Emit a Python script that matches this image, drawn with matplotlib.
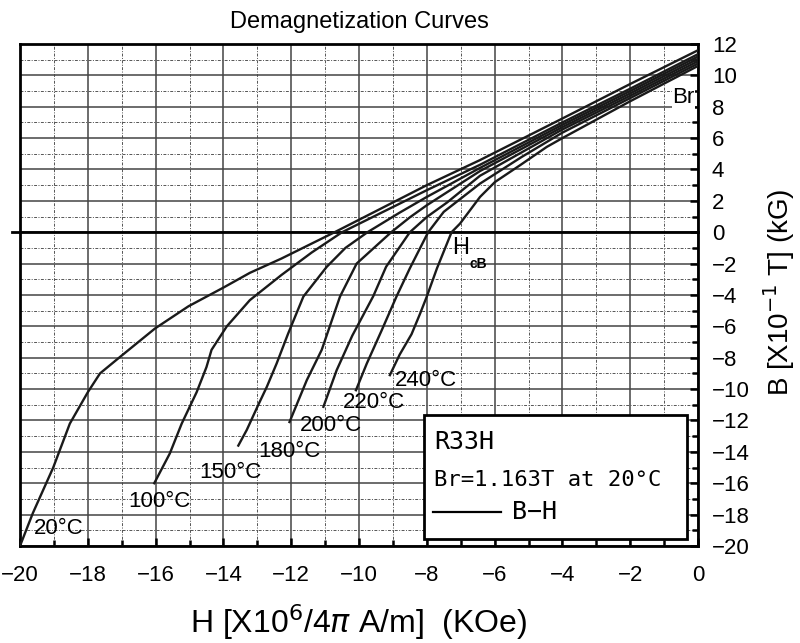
import numpy as np
import matplotlib
matplotlib.use("Agg")
import matplotlib.pyplot as plt
from matplotlib.ticker import MultipleLocator
from matplotlib.patches import Rectangle

# demagnetization curves, H in kOe, B in kG
H20 = [-20, -19.62, -19.02, -18.53, -18.0, -17.64, -17.05, -16.02, -15.03, -14.0,
       -13.22, -12.29, -10.72, -8.0, -6.43, -4.0, -2.0, 0.0]
B20 = [-20, -17.9, -15.0, -12.2, -10.2, -9.0, -7.95, -6.14, -4.72, -3.53,
       -2.59, -1.68, 0.0, 3.0, 4.6, 7.25, 9.45, 11.6]
H100 = [-16.04, -15.58, -15.23, -14.79, -14.5, -14.35, -13.9, -13.22, -12.29, -11.4,
        -10.5, -8.0, -6.43, -4.0, -2.0, 0.0]
B100 = [-16.0, -14.1, -12.2, -10.2, -8.6, -7.5, -6.0, -4.33, -2.73, -1.3,
        0.0, 2.68, 4.3, 7.0, 9.15, 11.35]
H150 = [-13.56, -13.31, -12.97, -12.72, -12.43, -12.09, -11.64, -10.95, -10.4, -9.75,
        -8.8, -8.0, -6.43, -4.0, -2.0, 0.0]
B150 = [-13.6, -12.6, -11.0, -9.86, -8.37, -6.46, -4.1, -2.2, -1.0, 0.0,
        1.25, 2.25, 4.1, 6.85, 9.0, 11.2]
H180 = [-12.05, -11.54, -11.1, -10.56, -10.07, -9.05, -8.5, -8.0, -6.43, -4.0, -2.0, 0.0]
B180 = [-12.1, -9.43, -7.5, -4.1, -2.0, 0.0, 0.95, 1.72, 3.9, 6.7, 8.85, 11.05]
H200 = [-11.05, -10.66, -10.2, -9.58, -9.2, -8.5, -8.0, -7.4, -6.43, -4.0, -2.0, 0.0]
B200 = [-11.13, -8.8, -6.6, -4.08, -2.2, 0.0, 0.97, 1.9, 3.6, 6.55, 8.7, 10.9]
H220 = [-10.09, -9.77, -9.33, -8.89, -8.5, -7.96, -7.5, -6.43, -5.2, -4.0, -2.0, 0.0]
B220 = [-10.07, -8.37, -6.25, -4.08, -2.3, 0.0, 1.3, 3.1, 4.8, 6.35, 8.55, 10.75]
H240 = [-9.09, -8.8, -8.45, -8.2, -8.0, -7.7, -7.27, -7.02, -6.43, -5.99, -5.25,
        -4.46, -4.0, -2.0, 0.0]
B240 = [-9.11, -7.8, -6.5, -5.2, -4.1, -2.3, 0.0, 0.55, 2.25, 3.2, 4.27,
        5.44, 6.0, 8.35, 10.6]

curves = [(H20, B20), (H100, B100), (H150, B150), (H180, B180),
          (H200, B200), (H220, B220), (H240, B240)]
temp_labels = ["20°C", "100°C", "150°C", "180°C", "200°C", "220°C", "240°C"]
# where each temperature label sits (left edge, vertical centre)
label_pos = [(-19.6, -18.9), (-16.8, -17.15), (-14.7, -15.3), (-12.98, -13.96),
             (-11.74, -12.3), (-10.47, -10.87), (-8.94, -9.43)]

xticks = np.arange(-20, 1, 2)
yticks = np.arange(-20, 13, 2)

sans = ["Liberation Sans", "DejaVu Sans"]
plt.rcParams["font.family"] = sans

fig = plt.figure(figsize=(8, 6.43), dpi=100)
ax = fig.add_axes([0.025, 0.1509, 0.8475, 0.7807])

ax.set_xlim(-20, 0)
ax.set_ylim(-20, 12)
ax.xaxis.set_minor_locator(MultipleLocator(1))
ax.yaxis.set_minor_locator(MultipleLocator(1))
ax.set_xticks(xticks)
ax.set_yticks(yticks)

ax.grid(which="major", color="#444444", lw=1.1)
ax.grid(which="minor", color="#555555", lw=0.7, ls=(0, (3, 1.5, 1, 1.5)))
ax.set_axisbelow(True)

ax.yaxis.tick_right()
ax.tick_params(which="both", direction="in", top=False, left=False,
               right=True, bottom=True, width=1.8, color="black")
ax.tick_params(which="major", length=6, labelsize=16, pad=14)
ax.tick_params(axis="y", which="major", pad=10)
ax.tick_params(which="minor", length=4)
for s in ax.spines.values():
    s.set_linewidth(2)

# zero line, running slightly past the left border
ax.axhline(0, xmin=-0.012, xmax=1, color="black", lw=2, clip_on=False, zorder=3)

for (h, b) in curves:
    ax.plot(h, b, color="#1a1a1a", lw=1.7, zorder=4)

for txt, (x, y) in zip(temp_labels, label_pos):
    ax.text(x, y, txt, fontsize=16, ha="left", va="center", zorder=5)

ax.text(-7.26, -0.99, "H", fontsize=17, ha="left", va="center", zorder=5)
ax.text(-6.74, -2.05, "cB", fontsize=10, fontweight="bold", ha="left",
        va="center", zorder=5)
ax.text(-0.1, 8.57, "Br", fontsize=16, ha="right", va="center", zorder=5,
        bbox=dict(facecolor="white", edgecolor="none", pad=0.5))

# legend box
ax.add_patch(Rectangle((0.596, 0.014), 0.388, 0.247, transform=ax.transAxes,
                       facecolor="white", edgecolor="black", lw=2, zorder=6))
ax.text(0.611, 0.208, "R33H", transform=ax.transAxes, fontsize=18,
        family="DejaVu Sans Mono", ha="left", va="center", zorder=7)
ax.text(0.611, 0.1315, "Br=1.163T at 20°C", transform=ax.transAxes,
        fontsize=16, family="DejaVu Sans Mono", ha="left", va="center", zorder=7)
ax.plot([0.609, 0.71], [0.068, 0.068], transform=ax.transAxes, color="black",
        lw=1.6, zorder=7)
ax.text(0.725, 0.068, "B−H", transform=ax.transAxes, fontsize=18,
        family="DejaVu Sans Mono", ha="left", va="center", zorder=7)

fig.text(0.449, 0.966, "Demagnetization Curves", fontsize=17, ha="center",
         va="center")
fig.text(0.448, 0.0327, r"H [X10$^6$/4$\pi$ A/m]  (KOe)", fontsize=23,
         ha="center", va="center")
fig.text(0.974, 0.545, r"B [X10$^{-1}$ T] (kG)", fontsize=20, rotation=90,
         ha="center", va="center")

fig.savefig("out.png", dpi=100)
